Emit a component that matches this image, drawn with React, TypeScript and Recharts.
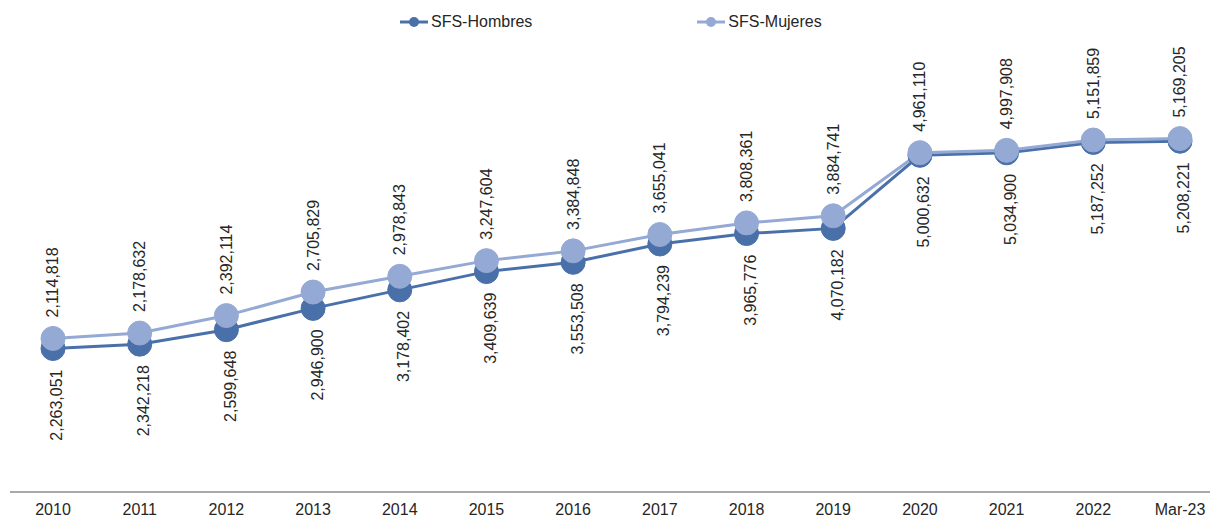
import { LineChart, Line, XAxis, YAxis, Legend, LabelList } from 'recharts';

const categories = ['2010', '2011', '2012', '2013', '2014', '2015', '2016', '2017', '2018', '2019', '2020', '2021', '2022', 'Mar-23'];
const hombres = [2114818, 2178632, 2392114, 2705829, 2978843, 3247604, 3384848, 3655041, 3808361, 3884741, 4961110, 4997908, 5151859, 5169205];
const mujeres = [2263051, 2342218, 2599648, 2946900, 3178402, 3409639, 3553508, 3794239, 3965776, 4070182, 5000632, 5034900, 5187252, 5208221];

const data = categories.map((name, i) => ({ name, hombres: hombres[i], mujeres: mujeres[i] }));

const DARK = '#4a70aa';
const LIGHT = '#94a9d4';
const TEXT = '#262626';
const FONT = '"Liberation Sans", Arial, sans-serif';

const fmt = (v: number) => Number(v).toLocaleString('en-US');

// rotated value label, placed above or below the point
const makeLabel = (side: 'top' | 'bottom') => (props: any) => {
  const px = props.x ?? props.viewBox?.x;
  const py = props.y ?? props.viewBox?.y;
  if (px == null || py == null) return null;
  const x = px + (side === 'top' ? 0 : 4);
  const y = side === 'top' ? py - 21 : py + 21;
  return (
    <text
      x={x}
      y={y}
      transform={`rotate(-90, ${x}, ${y})`}
      textAnchor={side === 'top' ? 'start' : 'end'}
      dominantBaseline="central"
      fill={TEXT}
      fontSize={16}
      fontFamily={FONT}
    >
      {fmt(props.value)}
    </text>
  );
};

function LegendContent({ payload }: any) {
  return (
    <div style={{ display: 'flex', gap: 165, fontFamily: FONT, fontSize: 16, color: TEXT }}>
      {(payload || []).map((p: any) => (
        <div key={p.value} style={{ display: 'flex', alignItems: 'center' }}>
          <svg width={30} height={12} style={{ marginRight: 1 }}>
            <line x1={0} y1={6} x2={28} y2={6} stroke={p.color} strokeWidth={3} />
            <circle cx={14} cy={6} r={5} fill={p.color} />
          </svg>
          <span>{p.value}</span>
        </div>
      ))}
    </div>
  );
}

export default function App() {
  return (
    <div style={{ position: 'absolute', left: 0, top: 0, width: 1210, height: 519, overflow: 'hidden', background: '#fff' }}>
      <LineChart width={1226} height={519} data={data} margin={{ top: 17, right: 3, left: 10, bottom: 0 }}>
        <XAxis
          dataKey="name"
          height={27}
          padding={{ left: 43, right: 43 }}
          tickLine={false}
          tickMargin={6}
          axisLine={{ stroke: '#8c8c8c', strokeWidth: 1.5 }}
          tick={{ fill: TEXT, fontSize: 16, fontFamily: FONT }}
          interval={0}
        />
        <YAxis hide domain={[0, 7000000]} />
        <Legend
          verticalAlign="middle"
          wrapperStyle={{ top: 13, left: 400, width: 'auto' }}
          content={<LegendContent />}
        />
        <Line
          name="SFS-Hombres"
          dataKey="hombres"
          type="linear"
          stroke={DARK}
          strokeWidth={3}
          dot={{ r: 12, fill: DARK, stroke: DARK, strokeWidth: 1 }}
          activeDot={false}
          isAnimationActive={false}
        >
          <LabelList dataKey="mujeres" content={makeLabel('bottom')} />
        </Line>
        <Line
          name="SFS-Mujeres"
          dataKey="mujeres"
          type="linear"
          stroke={LIGHT}
          strokeWidth={3}
          dot={{ r: 12, fill: LIGHT, stroke: LIGHT, strokeWidth: 1 }}
          activeDot={false}
          isAnimationActive={false}
        >
          <LabelList dataKey="hombres" content={makeLabel('top')} />
        </Line>
      </LineChart>
    </div>
  );
}
